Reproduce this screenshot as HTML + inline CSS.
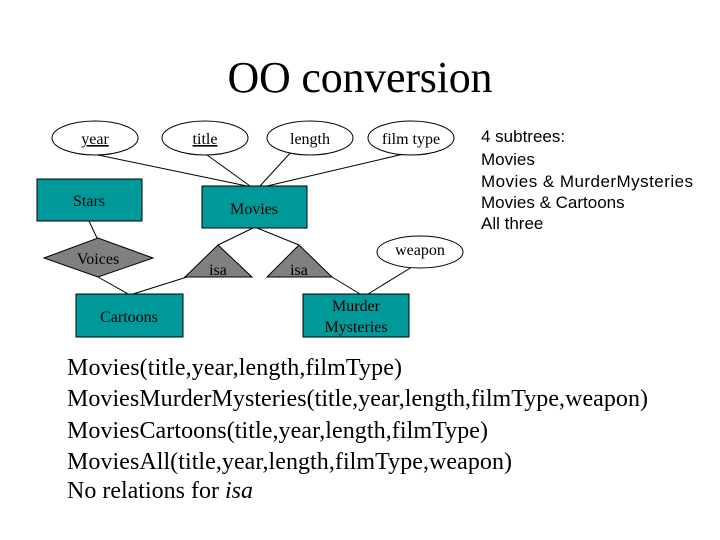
<!DOCTYPE html>
<html><head><meta charset="utf-8"><style>
html,body{margin:0;padding:0;background:#fff;width:720px;height:540px;overflow:hidden}
</style></head><body>
<svg width="720" height="540" xmlns="http://www.w3.org/2000/svg">
<rect width="720" height="540" fill="#fff"/>
<text x="360" y="92" font-family="Liberation Serif, serif" font-size="44" text-anchor="middle" textLength="265">OO conversion</text>
<g stroke="#000" stroke-width="1" fill="none">
<line x1="98" y1="155" x2="247" y2="186"/>
<line x1="207" y1="155" x2="250" y2="186"/>
<line x1="293" y1="150" x2="260" y2="186"/>
<line x1="408" y1="153" x2="267" y2="186"/>
<line x1="89" y1="221" x2="97" y2="238"/>
<line x1="98" y1="277" x2="128" y2="294"/>
<line x1="133" y1="294" x2="187" y2="277"/>
<line x1="253" y1="228" x2="218" y2="245"/>
<line x1="257" y1="228" x2="299" y2="245"/>
<line x1="332" y1="277" x2="360" y2="294"/>
<line x1="412" y1="267" x2="368" y2="294"/>
</g>
<g stroke="#000" stroke-width="1" fill="#fff">
<ellipse cx="95" cy="138" rx="43" ry="17"/>
<ellipse cx="205" cy="138" rx="43" ry="17"/>
<ellipse cx="310" cy="138" rx="43" ry="17"/>
<ellipse cx="411" cy="138" rx="43" ry="17"/>
<ellipse cx="420" cy="252" rx="43" ry="16"/>
</g>
<g stroke="#000" stroke-width="1" fill="#009999">
<rect x="37" y="179" width="105" height="42"/>
<rect x="202" y="186" width="105" height="42"/>
<rect x="76" y="294" width="107" height="43"/>
<rect x="303" y="294" width="106" height="43"/>
</g>
<g stroke="#000" stroke-width="1" fill="#808080">
<polygon points="44,258 98,238 153,258 98,277"/>
<polygon points="218,245 185,277 252,277"/>
<polygon points="299,245 267,277 332,277"/>
</g>
<g font-family="Liberation Serif, serif" font-size="16" fill="#000" text-anchor="middle">
<text x="95" y="144" text-decoration="underline">year</text>
<text x="205" y="144" text-decoration="underline">title</text>
<text x="310" y="144">length</text>
<text x="411" y="144">film type</text>
<text x="420" y="255">weapon</text>
<text x="89" y="206">Stars</text>
<text x="254" y="214">Movies</text>
<text x="98" y="264">Voices</text>
<text x="218" y="275">isa</text>
<text x="299" y="275">isa</text>
<text x="129" y="322">Cartoons</text>
<text x="356" y="311">Murder</text>
<text x="356" y="332">Mysteries</text>
</g>
<g font-family="Liberation Sans, sans-serif" font-size="17" fill="#000">
<text x="481" y="142">4 subtrees:</text>
<text x="481" y="165">Movies</text>
<text x="481" y="187" textLength="212">Movies &amp; MurderMysteries</text>
<text x="481" y="208">Movies &amp; Cartoons</text>
<text x="481" y="229">All three</text>
</g>
<g font-family="Liberation Serif, serif" font-size="24" fill="#000">
<text x="67" y="375" textLength="335">Movies(title,year,length,filmType)</text>
<text x="67" y="406" textLength="581">MoviesMurderMysteries(title,year,length,filmType,weapon)</text>
<text x="67" y="438" textLength="421">MoviesCartoons(title,year,length,filmType)</text>
<text x="67" y="469" textLength="445">MoviesAll(title,year,length,filmType,weapon)</text>
<text x="67" y="498">No relations for <tspan font-style="italic">isa</tspan></text>
</g>
</svg>
</body></html>
